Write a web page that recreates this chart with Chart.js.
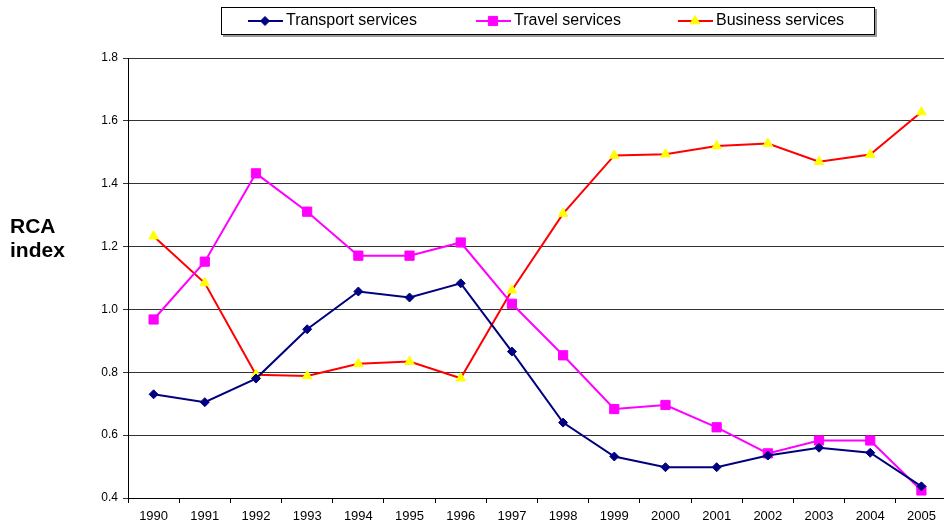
<!DOCTYPE html>
<html>
<head>
<meta charset="utf-8">
<script src="https://cdn.jsdelivr.net/npm/chart.js@4.4.1/dist/chart.umd.min.js"></script>
<style>
html, body { margin: 0; padding: 0; background: #fff; overflow: hidden; }
#wrap { width: 947px; height: 523px; }
</style>
</head>
<body>
<div id="wrap"><canvas id="rca"></canvas></div>
<script>
var years = ["1990","1991","1992","1993","1994","1995","1996","1997","1998","1999","2000","2001","2002","2003","2004","2005"];
var transport = [0.73,0.705,0.78,0.937,1.057,1.038,1.083,0.866,0.64,0.532,0.498,0.498,0.535,0.56,0.544,0.437];
var travel = [0.968,1.152,1.433,1.311,1.171,1.171,1.213,1.018,0.854,0.683,0.696,0.625,0.542,0.583,0.583,0.424];
var business = [1.233,1.084,0.792,0.788,0.827,0.834,0.781,1.061,1.305,1.49,1.494,1.52,1.528,1.47,1.493,1.628];
var yMin = 0.4, yMax = 1.8, yStep = 0.2;

Chart.defaults.font.family = "'Liberation Sans', Arial, sans-serif";
Chart.defaults.color = '#000';

// legend box with line + marker, and the y axis title
var extras = {
    id: 'extras',
    afterDraw: function(chart) {
        var c = chart.ctx;
        c.save();
        c.fillStyle = '#999';
        c.fillRect(223, 9, 654, 28);
        c.fillStyle = '#fff';
        c.fillRect(221, 7, 654, 28);
        c.strokeStyle = '#000';
        c.lineWidth = 1;
        c.strokeRect(221.5, 7.5, 653, 27);

        var xs = [248, 476, 678];
        c.font = "16px 'Liberation Sans', Arial, sans-serif";
        c.textBaseline = 'middle';
        chart.data.datasets.forEach(function(ds, i) {
            var x = xs[i], y = 21;
            c.strokeStyle = ds.borderColor;
            c.lineWidth = 2;
            c.beginPath();
            c.moveTo(x, y);
            c.lineTo(x + 35, y);
            c.stroke();
            c.fillStyle = ds.pointBackgroundColor;
            c.strokeStyle = ds.pointBorderColor;
            c.lineWidth = 1;
            Chart.helpers.drawPoint(c, {pointStyle: ds.pointStyle, radius: ds.pointRadius, borderWidth: 1, rotation: 0}, x + 17, y);
            c.fillStyle = '#000';
            c.textAlign = 'left';
            c.fillText(ds.label, x + 38, y);
        });

        c.font = "bold 21px 'Liberation Sans', Arial, sans-serif";
        c.fillText('RCA', 10, 227);
        c.fillText('index', 10, 251);
        c.restore();
    }
};

var ctx = document.getElementById('rca').getContext('2d');
var rcaChart = new Chart(ctx, {
    type: 'line',
    data: {
        labels: years,
        datasets: [{
            label: 'Transport services',
            data: transport,
            borderColor: '#000080',
            borderWidth: 2,
            pointStyle: 'rectRot',
            pointRadius: 4.5,
            pointBackgroundColor: '#000080',
            pointBorderColor: '#000080',
            pointBorderWidth: 1,
            tension: 0
        }, {
            label: 'Travel services',
            data: travel,
            borderColor: '#ff00ff',
            borderWidth: 2,
            pointStyle: 'rect',
            pointRadius: 6.5,
            pointBackgroundColor: '#ff00ff',
            pointBorderColor: '#ff00ff',
            pointBorderWidth: 1,
            tension: 0
        }, {
            label: 'Business services',
            data: business,
            borderColor: '#ff0000',
            borderWidth: 2,
            pointStyle: 'triangle',
            pointRadius: 5.5,
            pointBackgroundColor: '#ffff00',
            pointBorderColor: '#ffff00',
            pointBorderWidth: 1,
            tension: 0
        }]
    },
    options: {
        responsive: true,
        maintainAspectRatio: false,
        animation: false,
        layout: { autoPadding: false, padding: { top: 58, right: 0, left: 0, bottom: 0 } },
        plugins: {
            legend: { display: false },
            tooltip: { enabled: false }
        },
        scales: {
            x: {
                offset: true,
                grid: { display: true, drawOnChartArea: false, drawTicks: true, tickLength: 5, color: '#000', offset: true },
                border: { color: '#000', width: 1 },
                ticks: { font: { size: 13 }, maxRotation: 0, autoSkip: false, padding: 6 },
                afterFit: function(s) { s.height = 25; s.paddingLeft = 0; s.paddingRight = 0; }
            },
            y: {
                min: yMin,
                max: yMax,
                grid: { color: '#333', tickLength: 5 },
                border: { color: '#000', width: 1 },
                ticks: {
                    stepSize: yStep,
                    font: { size: 12 },
                    padding: 5,
                    callback: function(v) { return v.toFixed(1); }
                },
                afterFit: function(s) { s.width = 128; }
            }
        }
    },
    plugins: [extras]
});
</script>
</body>
</html>
